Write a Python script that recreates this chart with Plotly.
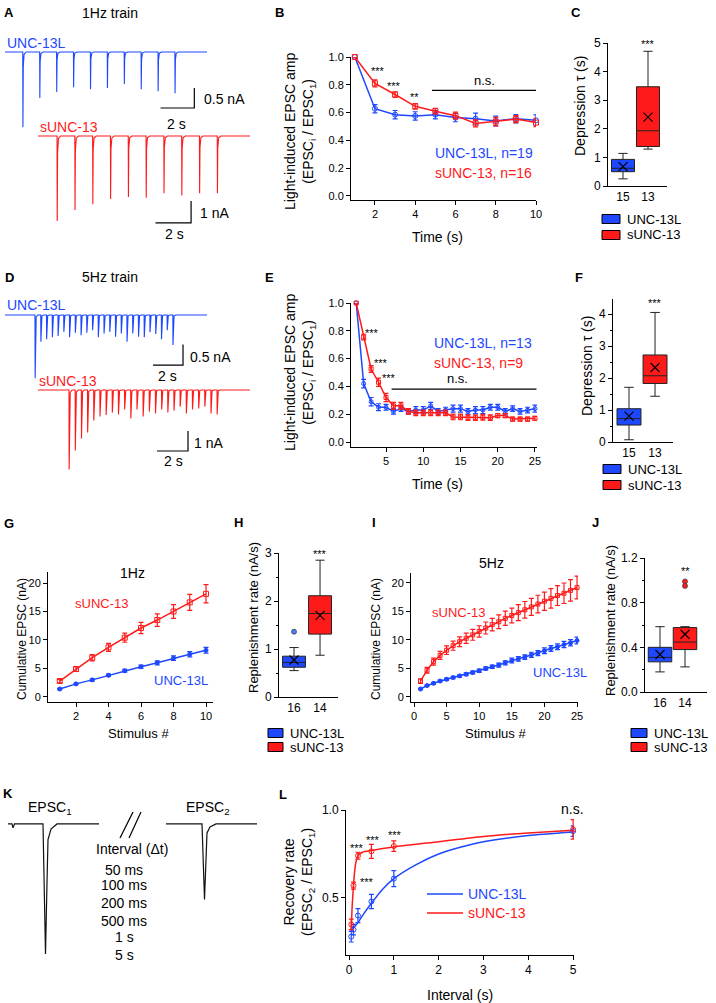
import plotly.graph_objects as go

W, H = 716, 1003
BLUE = '#1d48ff'
RED = '#ff1a1a'
FONT = 'Arial, Liberation Sans, sans-serif'

# ---------------- data ----------------
# A: 1 Hz train, EPSC peak amplitudes (nA)
a_blue_amp = [1.88, 1.15, 1.0, 0.88, 0.93, 0.9, 0.8, 0.93, 0.98, 1.03]
a_red_amp = [3.86, 3.36, 3.1, 2.86, 2.77, 2.8, 2.6, 2.7, 2.6, 2.6]

# D: 5 Hz train, EPSC peak amplitudes (nA)
d_blue_amp = [1.54, 0.65, 0.59, 0.54, 0.51, 0.41, 0.54, 0.43, 0.49, 0.43, 0.37, 0.54, 0.45,
              0.41, 0.53, 0.45, 0.65, 0.45, 0.53, 0.54, 0.42, 0.46, 0.59, 0.37, 0.73]
d_red_amp = [3.97, 3.03, 2.42, 2.13, 1.53, 1.33, 1.25, 1.13, 1.22, 0.97, 1.42, 0.97, 1.33,
             1.08, 1.17, 0.97, 1.12, 1.03, 0.83, 1.17, 0.97, 0.92, 0.83, 1.17, 1.22]

# B: normalised EPSC amplitude, 1 Hz
b_time = [1, 2, 3, 4, 5, 6, 7, 8, 9, 10]
b_blue = [1.0, 0.628, 0.585, 0.576, 0.585, 0.564, 0.556, 0.54, 0.556, 0.544]
b_blue_err = [0.0, 0.03, 0.03, 0.03, 0.03, 0.03, 0.04, 0.035, 0.03, 0.04]
b_red = [1.0, 0.81, 0.73, 0.645, 0.61, 0.578, 0.522, 0.535, 0.553, 0.528]
b_red_err = [0.0, 0.025, 0.02, 0.02, 0.02, 0.025, 0.025, 0.03, 0.025, 0.03]

# E: normalised EPSC amplitude, 5 Hz
e_time = list(range(1, 26))
e_blue = [1.0, 0.42, 0.29, 0.25, 0.25, 0.22, 0.24, 0.22, 0.23, 0.23, 0.26, 0.22, 0.23,
          0.24, 0.24, 0.22, 0.23, 0.23, 0.25, 0.25, 0.22, 0.24, 0.22, 0.23, 0.24]
e_blue_err = [0.0, 0.03, 0.03, 0.025, 0.02, 0.02, 0.02, 0.02, 0.025, 0.025, 0.025, 0.02, 0.02,
              0.025, 0.025, 0.02, 0.025, 0.025, 0.02, 0.02, 0.02, 0.02, 0.02, 0.02, 0.025]
e_red = [1.0, 0.755, 0.525, 0.43, 0.32, 0.26, 0.26, 0.22, 0.21, 0.21, 0.21, 0.21, 0.21,
         0.18, 0.18, 0.175, 0.175, 0.178, 0.175, 0.19, 0.19, 0.165, 0.165, 0.165, 0.17]
e_red_err = [0.0, 0.02, 0.025, 0.03, 0.03, 0.025, 0.025, 0.02, 0.02, 0.02, 0.02, 0.02, 0.02,
             0.02, 0.02, 0.02, 0.02, 0.02, 0.02, 0.015, 0.015, 0.015, 0.015, 0.015, 0.015]

# C / F / H / J: box statistics  [q1, median, q3, lower whisker, upper whisker, mean]
c_blue = [0.50, 0.62, 0.93, 0.25, 1.14, 0.68]
c_red = [1.38, 1.93, 3.47, 1.29, 4.71, 2.41]
f_blue = [0.53, 0.73, 1.04, 0.07, 1.71, 0.81]
f_red = [1.83, 2.07, 2.72, 1.43, 4.05, 2.33]
h_blue = [0.62, 0.72, 0.85, 0.55, 1.03, 0.77]
h_red = [1.31, 1.74, 2.11, 0.87, 2.85, 1.70]
h_blue_out = [1.36]
j_blue = [0.27, 0.31, 0.40, 0.18, 0.585, 0.336]
j_red = [0.38, 0.447, 0.577, 0.225, 0.585, 0.517]
j_red_out = [0.99, 0.95]
c_n = ['15', '13']
f_n = ['15', '13']
h_n = ['16', '14']
j_n = ['16', '14']

# G: cumulative EPSC, 1 Hz
g_stim = list(range(1, 11))
g_red = [2.8, 4.9, 6.9, 8.7, 10.4, 12.1, 13.5, 15.0, 16.6, 18.1]
g_red_err = [0.3, 0.4, 0.55, 0.7, 0.8, 1.0, 1.1, 1.2, 1.4, 1.6]
g_blue = [1.4, 2.3, 3.0, 3.8, 4.6, 5.3, 6.0, 6.8, 7.5, 8.2]
g_blue_err = [0.1, 0.15, 0.2, 0.2, 0.25, 0.3, 0.35, 0.4, 0.45, 0.5]

# I: cumulative EPSC, 5 Hz
i_stim = list(range(1, 26))
i_red = [2.8, 4.7, 6.2, 7.3, 8.2, 9.0, 9.7, 10.3, 10.9, 11.5, 12.1, 12.7, 13.2,
         13.8, 14.3, 14.8, 15.3, 15.8, 16.3, 16.8, 17.3, 17.8, 18.2, 18.7, 19.2]
i_red_err = [0.4, 0.5, 0.6, 0.7, 0.75, 0.8, 0.85, 0.9, 0.95, 1.0, 1.05, 1.1, 1.2,
             1.25, 1.3, 1.4, 1.45, 1.5, 1.55, 1.6, 1.7, 1.75, 1.8, 1.9, 2.0]
i_blue = [1.4, 2.0, 2.4, 2.8, 3.1, 3.4, 3.7, 4.0, 4.3, 4.6, 5.0, 5.3, 5.6,
          6.0, 6.4, 6.7, 7.0, 7.4, 7.7, 8.1, 8.5, 8.8, 9.2, 9.5, 9.9]
i_blue_err = [0.1, 0.1, 0.15, 0.15, 0.2, 0.2, 0.2, 0.25, 0.25, 0.3, 0.3, 0.3, 0.35,
              0.35, 0.4, 0.4, 0.4, 0.45, 0.45, 0.5, 0.5, 0.5, 0.55, 0.55, 0.6]

# K: example paired EPSCs (normalised to EPSC1)
k_amp = [1.0, 0.58]

# L: recovery
l_interval = [0.05, 0.1, 0.2, 0.5, 1.0, 5.0]
l_blue = [0.28, 0.32, 0.40, 0.48, 0.61, 0.88]
l_blue_err = [0.03, 0.03, 0.04, 0.04, 0.045, 0.03]
l_red = [0.35, 0.57, 0.74, 0.765, 0.795, 0.89]
l_red_err = [0.03, 0.02, 0.02, 0.04, 0.03, 0.055]
fit_x_blue = [0.05, 0.1, 0.2, 0.3, 0.5, 0.75, 1.0, 1.5, 2.0, 2.5, 3.0, 4.0, 5.0]
fit_blue = [0.31, 0.33, 0.36, 0.40, 0.47, 0.55, 0.61, 0.69, 0.75, 0.79, 0.82, 0.855, 0.875]
fit_x_red = [0.05, 0.07, 0.1, 0.13, 0.16, 0.2, 0.3, 0.5, 1.0, 2.0, 3.0, 4.0, 5.0]
fit_red = [0.31, 0.45, 0.57, 0.66, 0.71, 0.74, 0.76, 0.77, 0.79, 0.82, 0.85, 0.87, 0.885]

# spike template (time after stimulus in s, fraction of peak)
spike_dt = [0.0, 0.01, 0.03, 0.08, 0.2]
spike_frac = [0.0, 1.0, 0.2, 0.03, 0.0]
epsc_dt = [0.0, 2.5, 4.0, 5.0, 8.0, 14.0]
epsc_frac = [0.0, 1.0, 0.45, 0.12, 0.04, 0.0]

# ---------------- figure ----------------
fig = go.Figure()
lay = dict(width=W, height=H, margin=dict(l=0, r=0, t=0, b=0, autoexpand=False),
           paper_bgcolor='white', plot_bgcolor='white', showlegend=False,
           font=dict(family=FONT, color='black'))
annotations = []
shapes = []


def xn(n):
    return 'x' if n == 1 else f'x{n}'


def yn(n):
    return 'y' if n == 1 else f'y{n}'


def axes(n, xpx, ypx, xr, yr, xkw=None, ykw=None, hidden=False, fs=11):
    base = dict(showline=True, linecolor='black', linewidth=1, ticks='outside', ticklen=4,
                tickwidth=1, tickcolor='black', showgrid=False, zeroline=False, fixedrange=True,
                automargin=False, tickfont=dict(size=fs, family=FONT, color='black'))
    xa = dict(base, domain=[xpx[0] / W, xpx[1] / W], range=xr, anchor=yn(n))
    ya = dict(base, domain=[1 - ypx[1] / H, 1 - ypx[0] / H], range=yr, anchor=xn(n))
    if hidden:
        xa['visible'] = False
        ya['visible'] = False
    xa.update(xkw or {})
    ya.update(ykw or {})
    lay['xaxis' if n == 1 else f'xaxis{n}'] = xa
    lay['yaxis' if n == 1 else f'yaxis{n}'] = ya


def txt(x, y, s, size=12, color='black', xanchor='center', angle=0, bold=False):
    if bold:
        s = f'<b>{s}</b>'
    annotations.append(dict(x=x / W, y=1 - y / H, xref='paper', yref='paper', text=s,
                            showarrow=False, textangle=angle, xanchor=xanchor, yanchor='middle',
                            font=dict(size=size, color=color, family=FONT)))


def train(n, t0, interval, amps, t_end, color):
    xs, ys = [0.0], [0.0]
    for i, a in enumerate(amps):
        t = t0 + i * interval
        for dt, f in zip(spike_dt, spike_frac):
            xs.append(t + dt)
            ys.append(-a * f)
    xs.append(t_end)
    ys.append(0.0)
    fig.add_trace(go.Scatter(x=xs, y=ys, mode='lines', line=dict(color=color, width=1.1),
                             xaxis=xn(n), yaxis=yn(n), hoverinfo='skip'))


def scalebar(n, corner_x, corner_y, dx, dy):
    fig.add_trace(go.Scatter(x=[corner_x - dx, corner_x, corner_x],
                             y=[corner_y, corner_y, corner_y + dy], mode='lines',
                             line=dict(color='black', width=1.2), xaxis=xn(n), yaxis=yn(n)))


def series(n, x, y, err, color, symbol, size=5, mode='lines+markers', width=1.5):
    fig.add_trace(go.Scatter(
        x=x, y=y, mode=mode, line=dict(color=color, width=width),
        marker=dict(symbol=symbol, size=size, color=color, line=dict(color=color, width=1)),
        error_y=dict(type='data', array=err, color=color, thickness=1.2, width=2.5),
        xaxis=xn(n), yaxis=yn(n), cliponaxis=False))


def boxes(n, stats_list, colors, width):
    for pos, (st, col) in enumerate(zip(stats_list, colors)):
        q1, med, q3, lo, hi, mean = st
        fig.add_trace(go.Box(x=[pos], q1=[q1], median=[med], q3=[q3], lowerfence=[lo],
                             upperfence=[hi], fillcolor=col, line=dict(color='#222222', width=1),
                             whiskerwidth=0.4, width=width, boxpoints=False,
                             xaxis=xn(n), yaxis=yn(n), hoverinfo='skip'))
        fig.add_trace(go.Scatter(x=[pos], y=[mean], mode='markers', cliponaxis=False,
                                 marker=dict(symbol='x-thin', size=9,
                                             line=dict(color='black', width=1.2)),
                                 xaxis=xn(n), yaxis=yn(n)))


def outliers(n, pos, vals, color):
    fig.add_trace(go.Scatter(x=[pos] * len(vals), y=vals, mode='markers', cliponaxis=False,
                             marker=dict(size=5, color=color, line=dict(color='#444', width=0.8)),
                             xaxis=xn(n), yaxis=yn(n)))


def box_legend(x0, y_blue, y_red, w, size=13):
    for yy, col, lab in [(y_blue, BLUE, 'UNC-13L'), (y_red, RED, 'sUNC-13')]:
        shapes.append(dict(type='rect', xref='paper', yref='paper', x0=x0 / W, x1=(x0 + w) / W,
                           y0=1 - (yy + 4.5) / H, y1=1 - (yy - 4.5) / H, fillcolor=col,
                           line=dict(color='black', width=1)))
        txt(x0 + w + 5, yy, lab, size=size, xanchor='left')


# ---- A: 1 Hz traces ----
axes(1, (5, 207), (45, 132), [0, 11.95], [-2.0, 0.175], hidden=True)
axes(2, (38, 250), (128, 228), [0, 11.91], [-4.18, 0.364], hidden=True)
train(1, 1.05, 1.0, a_blue_amp, 11.95, BLUE)
train(2, 1.07, 1.0, a_red_amp, 11.91, RED)
scalebar(1, 11.2, -1.4, 2, 0.5)
scalebar(2, 8.6, -3.95, 2, 1)
txt(9, 13, 'A', 13, bold=True)
txt(110, 13, '1Hz train', 14)
txt(36, 43, 'UNC-13L', 14, BLUE)
txt(202, 99, '0.5 nA', 14, xanchor='left')
txt(176, 124, '2 s', 14)
txt(69, 127, 'sUNC-13', 14, RED)
txt(198, 213, '1 nA', 14, xanchor='left')
txt(174, 234, '2 s', 14)

# ---- B ----
axes(3, (351, 536), (57, 200), [0.81, 10.0], [-0.029, 1.0],
     xkw=dict(tickvals=[2, 4, 6, 8, 10]),
     ykw=dict(tickvals=[0, 0.2, 0.4, 0.6, 0.8, 1.0], tickformat='.1f'))
series(3, b_time, b_blue, b_blue_err, BLUE, 'circle-open')
series(3, b_time, b_red, b_red_err, RED, 'square-open')
shapes.append(dict(type='line', xref='x3', yref='y3', x0=4.83, x1=10, y0=0.76, y1=0.76,
                   line=dict(color='black', width=1.2)))
txt(279, 13, 'B', 13, bold=True)
txt(300, 132, 'Light-induced EPSC amp<br>(EPSC<sub>i</sub> / EPSC<sub>1</sub>)', 14, angle=-90)
txt(437, 237, 'Time (s)', 14)
txt(378, 71, '***', 11)
txt(394, 86, '***', 11)
txt(414, 97, '**', 11)
txt(484, 80, 'n.s.', 13)
txt(433, 153, 'UNC-13L, n=19', 14, BLUE, xanchor='left')
txt(433, 173, 'sUNC-13, n=16', 14, RED, xanchor='left')

# ---- C ----
axes(4, (608, 667), (43, 186), [-0.6, 1.76], [0, 5],
     xkw=dict(tickvals=[0, 1], ticktext=c_n, ticks=''), ykw=dict(dtick=1), fs=12)
boxes(4, [c_blue, c_red], [BLUE, RED], 0.92)
txt(576, 13, 'C', 13, bold=True)
txt(580, 106, 'Depression τ (s)', 14, angle=-90)
txt(648, 44, '***', 11)
box_legend(602, 219, 235, 18)

# ---- D: 5 Hz traces ----
axes(5, (5, 207), (305, 382), [0, 13.47], [-1.63, 0.244], hidden=True)
axes(6, (38, 250), (382, 474), [0, 13.68], [-4.2, 0.4], hidden=True)
train(5, 2.0, 0.383, d_blue_amp, 13.47, BLUE)
train(6, 2.0, 0.398, d_red_amp, 13.68, RED)
scalebar(5, 11.87, -1.22, 2, 0.5)
scalebar(6, 9.68, -3.05, 2, 1)
txt(9, 277, 'D', 13, bold=True)
txt(110, 277, '5Hz train', 14)
txt(36, 305, 'UNC-13L', 14, BLUE)
txt(188, 357, '0.5 nA', 14, xanchor='left')
txt(167, 376, '2 s', 14)
txt(68, 381, 'sUNC-13', 14, RED)
txt(192, 443, '1 nA', 14, xanchor='left')
txt(173, 461, '2 s', 14)

# ---- E ----
axes(7, (351, 537), (303, 447), [0.3, 25.27], [-0.036, 1.0],
     xkw=dict(tickvals=[5, 10, 15, 20, 25]),
     ykw=dict(tickvals=[0, 0.2, 0.4, 0.6, 0.8, 1.0], tickformat='.1f'))
series(7, e_time, e_blue, e_blue_err, BLUE, 'circle-open', size=4)
series(7, e_time, e_red, e_red_err, RED, 'square-open', size=4)
shapes.append(dict(type='line', xref='x7', yref='y7', x0=5.75, x1=25.2, y0=0.381, y1=0.381,
                   line=dict(color='black', width=1.2)))
txt(269, 277, 'E', 13, bold=True)
txt(300, 373, 'Light-induced EPSC amp<br>(EPSC<sub>i</sub> / EPSC<sub>1</sub>)', 14, angle=-90)
txt(437, 484, 'Time (s)', 14)
txt(372, 333, '***', 11)
txt(381, 363, '***', 11)
txt(389, 378, '***', 11)
txt(457, 378, 'n.s.', 13)
txt(432, 343, 'UNC-13L, n=13', 14, BLUE, xanchor='left')
txt(432, 363, 'sUNC-13, n=9', 14, RED, xanchor='left')

# ---- F ----
axes(8, (613, 673), (299, 442), [-0.615, 1.69], [0, 4.47],
     xkw=dict(tickvals=[0, 1], ticktext=f_n, ticks=''),
     ykw=dict(dtick=1, minor=dict(dtick=0.5, ticks='outside', ticklen=2.5, tickcolor='black')),
     fs=12)
boxes(8, [f_blue, f_red], [BLUE, RED], 0.92)
txt(579, 277, 'F', 13, bold=True)
txt(587, 366, 'Depression τ (s)', 14, angle=-90)
txt(655, 303, '***', 11)
box_legend(603, 469, 485, 18)

# ---- G ----
axes(9, (48, 213), (572, 702), [0.277, 10.43], [-0.88, 21.93],
     xkw=dict(tickvals=[2, 4, 6, 8, 10]), ykw=dict(tickvals=[0, 5, 10, 15, 20]))
series(9, g_stim, g_red, g_red_err, RED, 'square-open')
series(9, g_stim, g_blue, g_blue_err, BLUE, 'circle', size=4)
txt(9, 523, 'G', 13, bold=True)
txt(132, 573, '1Hz', 14)
txt(22, 639, 'Cumulative EPSC (nA)', 12, angle=-90)
txt(138, 733, 'Stimulus #', 13)
txt(102, 603, 'sUNC-13', 13, RED)
txt(181, 680, 'UNC-13L', 13, BLUE)

# ---- H ----
axes(10, (279, 338), (553, 697), [-0.577, 1.69], [0, 3.0],
     xkw=dict(tickvals=[0, 1], ticktext=h_n, ticks=''),
     ykw=dict(dtick=1, minor=dict(dtick=0.5, ticks='outside', ticklen=2.5, tickcolor='black')),
     fs=12)
boxes(10, [h_blue, h_red], [BLUE, RED], 0.88)
outliers(10, 0, h_blue_out, '#4a7dff')
txt(238, 522, 'H', 13, bold=True)
txt(253, 617, 'Replenishment rate (nA/s)', 13, angle=-90)
txt(320, 554, '***', 11)
box_legend(268, 733, 747, 15)

# ---- I ----
axes(11, (411, 578), (573, 702), [-0.46, 25.15], [-0.88, 21.75],
     xkw=dict(tickvals=[0, 5, 10, 15, 20, 25]), ykw=dict(tickvals=[0, 5, 10, 15, 20]))
series(11, i_stim, i_red, i_red_err, RED, 'square-open', size=4)
series(11, i_stim, i_blue, i_blue_err, BLUE, 'circle', size=4)
txt(374, 522, 'I', 13, bold=True)
txt(491, 563, '5Hz', 14)
txt(376, 639, 'Cumulative EPSC (nA)', 12, angle=-90)
txt(495, 733, 'Stimulus #', 13)
txt(458, 612, 'sUNC-13', 13, RED)
txt(560, 672, 'UNC-13L', 13, BLUE)

# ---- J ----
axes(12, (645, 707), (558, 692), [-0.6, 1.88], [0, 1.2],
     xkw=dict(tickvals=[0, 1], ticktext=j_n, ticks=''),
     ykw=dict(dtick=0.4, tickformat='.1f',
              minor=dict(dtick=0.2, ticks='outside', ticklen=2.5, tickcolor='black')),
     fs=12)
boxes(12, [j_blue, j_red], [BLUE, RED], 0.94)
outliers(12, 1, j_red_out, RED)
txt(595, 522, 'J', 13, bold=True)
txt(610, 621, 'Replenishment rate (nA/s)', 13, angle=-90)
txt(685, 571, '**', 11)
box_legend(631, 733, 747, 16)

# ---- K ----
axes(13, (8, 257), (815, 960), [0, 249], [-1.046, 0.069], hidden=True)
for start, end, spike_at, amp in [(0, 91, 35, k_amp[0]), (158, 249, 194, k_amp[1])]:
    xs, ys = [start], [0.0]
    if start == 0:
        xs += [4, 5, 6.5]
        ys += [0.0, -0.03, 0.0]
    for dt, f in zip(epsc_dt, epsc_frac):
        xs.append(spike_at + dt)
        ys.append(-amp * f)
    xs.append(end)
    ys.append(0.0)
    fig.add_trace(go.Scatter(x=xs, y=ys, mode='lines', line=dict(color='#111', width=1.2),
                             xaxis=xn(13), yaxis=yn(13)))
for (x0, y0, x1, y1) in [(120, 838, 133, 812), (129, 838, 141, 812)]:
    shapes.append(dict(type='line', xref='paper', yref='paper', x0=x0 / W, y0=1 - y0 / H,
                       x1=x1 / W, y1=1 - y1 / H, line=dict(color='black', width=1.2)))
txt(8, 793, 'K', 13, bold=True)
txt(50, 808, 'EPSC<sub>1</sub>', 14)
txt(208, 808, 'EPSC<sub>2</sub>', 14)
txt(132, 849, 'Interval (Δt)', 14)
for yy, lab in zip([870, 885, 903, 921, 937, 955],
                   ['50 ms', '100 ms', '200 ms', '500 ms', '1 s', '5 s']):
    txt(124, yy, lab, 14)

# ---- L ----
axes(14, (346, 574), (810, 955), [-0.067, 5.02], [0.176, 1.0],
     xkw=dict(tickvals=[0, 1, 2, 3, 4, 5]),
     ykw=dict(tickvals=[0.5, 1.0], tickformat='.1f'), fs=12)
fig.add_trace(go.Scatter(x=fit_x_blue, y=fit_blue, mode='lines', line=dict(color=BLUE, width=1.5,
                         shape='spline', smoothing=0.6), xaxis='x14', yaxis='y14'))
fig.add_trace(go.Scatter(x=fit_x_red, y=fit_red, mode='lines', line=dict(color=RED, width=1.5,
                         shape='spline', smoothing=0.6), xaxis='x14', yaxis='y14'))
series(14, l_interval, l_blue, l_blue_err, BLUE, 'circle-open', mode='markers')
series(14, l_interval, l_red, l_red_err, RED, 'circle-open', mode='markers')
txt(283, 794, 'L', 13, bold=True)
txt(299, 882, 'Recovery rate<br>(EPSC<sub>2</sub> / EPSC<sub>1</sub>)', 14, angle=-90)
txt(460, 995, 'Interval (s)', 14)
txt(357, 848, '***', 11)
txt(373, 840, '***', 11)
txt(395, 835, '***', 11)
txt(367, 882, '***', 11)
txt(572, 809, 'n.s.', 14)
for yy, col, lab in [(894, BLUE, 'UNC-13L'), (913, RED, 'sUNC-13')]:
    shapes.append(dict(type='line', xref='paper', yref='paper', x0=427 / W, x1=463 / W,
                       y0=1 - yy / H, y1=1 - yy / H, line=dict(color=col, width=1.5)))
    txt(466, yy, lab, 14, col, xanchor='left')

lay['annotations'] = annotations
lay['shapes'] = shapes
fig.update_layout(**lay)
fig.update_traces(showlegend=False)
# the page's default body margin would push the figure 8 px down/right
fig.write_html("out.html", config={'displayModeBar': False},
               post_script="document.body.style.margin='0';document.body.style.overflow='hidden';")
